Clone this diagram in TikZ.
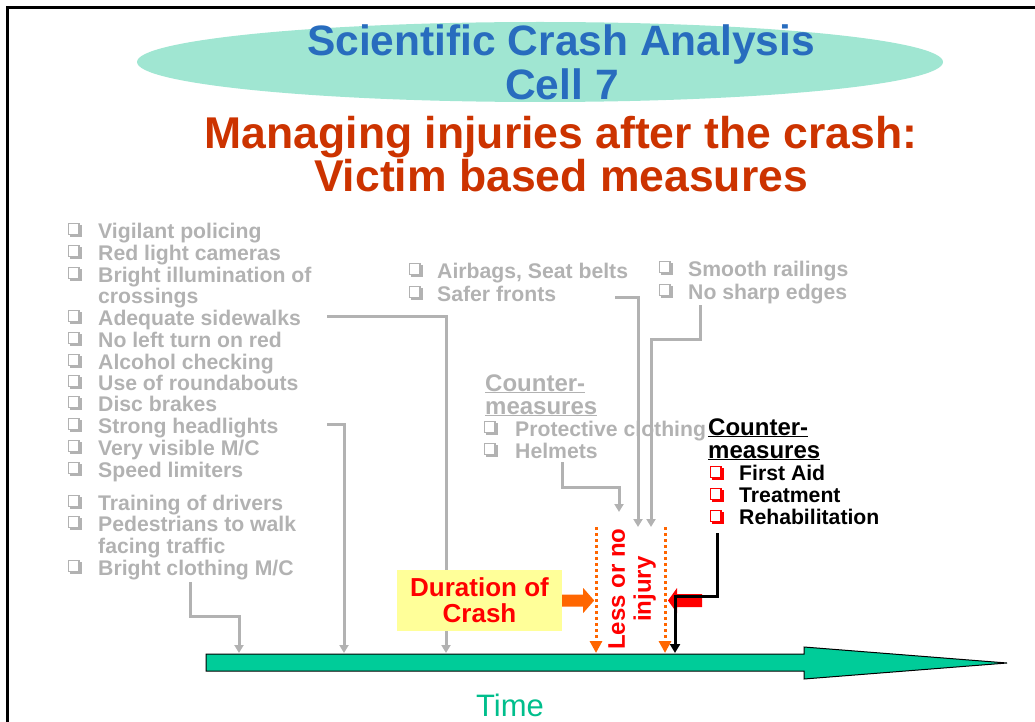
\documentclass[tikz,border=0pt]{standalone}
\usepackage{fontspec}
\setmainfont{Liberation Sans}
\usetikzlibrary{arrows.meta}
\definecolor{grayc}{RGB}{178,178,178}
\definecolor{titleblue}{RGB}{40,108,190}
\definecolor{titlered}{RGB}{204,51,0}
\definecolor{ellteal}{RGB}{160,230,210}
\definecolor{axisgreen}{RGB}{0,204,153}
\definecolor{timegreen}{RGB}{0,190,140}
\definecolor{orng}{RGB}{255,102,0}
\definecolor{redc}{RGB}{255,0,0}
\definecolor{yelbox}{RGB}{255,255,153}
\begin{document}
\begin{tikzpicture}[x=1pt,y=-1pt,
  gtext/.style={anchor=base west, inner sep=0, text=grayc, font=\fontsize{21.2}{22}\selectfont\bfseries},
  btext/.style={gtext, text=black},
  headtext/.style={anchor=base west, inner sep=0, font=\fontsize{24}{24}\selectfont\bfseries},
  chk/.pic={\draw[line width=1.3] (0.9,0.6) rectangle (11.6,11.3);
            \draw[line width=2.6] (12.9,2.4) -- (12.9,12.6) -- (2.4,12.6);},
  gconn/.style={draw=grayc, line width=3, -{Triangle[width=9,length=8]}},
  odot/.style={draw=orng, line width=3, dash pattern=on 3 off 3, -{Triangle[width=12,length=12]}},
  bconn/.style={draw=black, line width=3, -{Triangle[width=10,length=9]}}]
\useasboundingbox (0,0) rectangle (1035,722);

% frame
\draw[line width=3] (7.5,722) -- (7.5,8) -- (1035,8);

% heading
\fill[ellteal] (540,62) ellipse [x radius=403, y radius=40];
\node[anchor=base, inner sep=0, text=titleblue, font=\fontsize{42.5}{42}\selectfont\bfseries] (t1) at (561,56) {Scientific Crash Analysis};
\node[anchor=base, inner sep=0, text=titleblue, font=\fontsize{42.5}{42}\selectfont\bfseries] (t2) at (562,100) {Cell 7};
\node[anchor=base, inner sep=0, text=titlered, font=\fontsize{44.5}{44}\selectfont\bfseries] (t3) at (561,149) {Managing injuries after the crash:};
\node[anchor=base, inner sep=0, text=titlered, font=\fontsize{44.5}{44}\selectfont\bfseries] (t4) at (561,191) {Victim based measures};

% left list of measures
\foreach \t/\b/\k [count=\i] in {
  Vigilant policing/238/1, Red light cameras/260/1, Bright illumination of/282/1,
  crossings/303/0, Adequate sidewalks/325/1, No left turn on red/347/1,
  Alcohol checking/369/1, Use of roundabouts/390/1, Disc brakes/411/1,
  Strong headlights/433/1, {Very visible M/C}/455/1, Speed limiters/477/1,
  Training of drivers/510/1, Pedestrians to walk/531/1, facing traffic/553/0,
  {Bright clothing M/C}/575/1}{
  \node[gtext] (L\i) at (98,\b) {\t};
  \ifnum\k=1 \pic[grayc] at (67.5,\b-15) {chk}; \fi
}

% vehicle measures
\node[gtext] (M1) at (437,278) {Airbags, Seat belts};
\node[gtext] (M2) at (437,301) {Safer fronts};
\pic[grayc] at (408.5,263) {chk};
\pic[grayc] at (408.5,286) {chk};
\node[gtext] (R1) at (688,276) {Smooth railings};
\node[gtext] (R2) at (688,299) {No sharp edges};
\pic[grayc] at (658.5,261) {chk};
\pic[grayc] at (658.5,284) {chk};

% grey countermeasures
\node[headtext, text=grayc] (G0a) at (485,391) {\underline{Counter-}};
\node[headtext, text=grayc] (G0b) at (485,414) {\underline{measures}};
\node[gtext] (G1) at (515,436) {Protective clothing};
\node[gtext] (G2) at (515,458) {Helmets};
\pic[grayc] at (483.5,421) {chk};
\pic[grayc] at (483.5,443) {chk};

% black countermeasures
\node[headtext, text=black] (B0a) at (708,435) {\underline{Counter-}};
\node[headtext, text=black] (B0b) at (708,458) {\underline{measures}};
\node[btext] (B1) at (739,480) {First Aid};
\node[btext] (B2) at (739,502) {Treatment};
\node[btext] (B3) at (739,524) {Rehabilitation};
\pic[redc] at (709.5,466) {chk};
\pic[redc] at (709.5,488) {chk};
\pic[redc] at (709.5,510) {chk};

% time axis
\draw[fill=axisgreen, line width=1] (206,654) -- (804,654) -- (804,647) -- (1007,663)
  -- (804,679) -- (804,671) -- (206,671) -- cycle;
\node[anchor=base, inner sep=0, text=timegreen, font=\fontsize{31}{31}\selectfont] (time) at (510,716) {Time};

% end points on the axis and at the injury zone
\coordinate (a1) at (239,653);
\coordinate (a2) at (344,653);
\coordinate (a3) at (446,653);
\coordinate (z1) at (638,527);
\coordinate (z2) at (651,527);
\coordinate (z3) at (619,512);
\coordinate (o1) at (596,527);
\coordinate (o1e) at (596,653);
\coordinate (o2) at (665,527);
\coordinate (o2e) at (665,653);
\coordinate (a4) at (675,653);

% grey connectors
\draw[gconn] ([shift={(92,7)}]L16.base west) -- ++(0,34) -| (a1);
\draw[gconn] ([shift={(229,-9)}]L10.base west) -| (a2);
\draw[gconn] ([shift={(229,-9)}]L5.base west) -| (a3);
\draw[gconn] ([shift={(178,-4)}]M2.base west) -| (z1);
\draw[gconn] ([shift={(12,6)}]R2.base west) -- ++(0,34) -| (z2);
\draw[gconn] ([shift={(47,4)}]G2.base west) -- ++(0,25) -| (z3);

% crash duration box and injury zone
\node[fill=yelbox, minimum width=165, minimum height=61, inner sep=0, align=center,
  text=redc, font=\fontsize{26}{26}\selectfont\bfseries] (dur) at (479.5,600.5) {Duration of\\Crash};
\fill[orng] (dur.east) ++(0,-6) -- ++(21,0) -- ++(0,-6.5) -- ++(11,12.5) -- ++(-11,12.5)
  -- ++(0,-6.5) -- ++(-21,0) -- cycle;
\node[rotate=90, inner sep=0, align=center, text=redc, font=\fontsize{24}{26}\selectfont\bfseries] (less) at (632,589) {Less or no\\injury};
\draw[odot] (o1) -- (o1e);
\draw[odot] (o2) -- (o2e);
\fill[redc] (702,594) -- (677,594) -- (677,588) -- (668,600.5) -- (677,613) -- (677,607) -- (702,607) -- cycle;

% black connector
\draw[bconn] ([shift={(-22,9)}]B3.base west) -- ++(0,63) -| (a4);
\end{tikzpicture}
\end{document}
